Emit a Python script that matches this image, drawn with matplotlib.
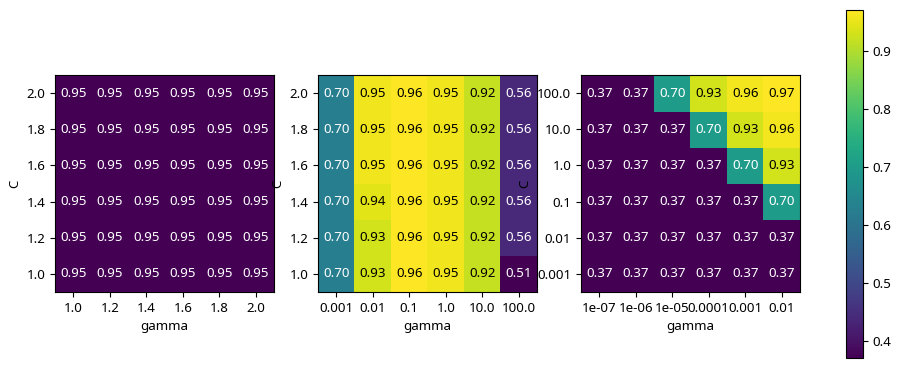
import numpy as np
import matplotlib
matplotlib.use("Agg")
import matplotlib.pyplot as plt

plt.rcParams['font.family'] = ['Noto Sans', 'DejaVu Sans']
plt.rcParams['font.size'] = 9.6
plt.rcParams['axes.unicode_minus'] = False

# rows go from bottom (first C value) to top (last C value)
gamma1 = ['1.0', '1.2', '1.4', '1.6', '1.8', '2.0']
C1 = ['1.0', '1.2', '1.4', '1.6', '1.8', '2.0']
scores1 = [
    [0.95, 0.95, 0.95, 0.95, 0.95, 0.95],
    [0.95, 0.95, 0.95, 0.95, 0.95, 0.95],
    [0.95, 0.95, 0.95, 0.95, 0.95, 0.95],
    [0.95, 0.95, 0.95, 0.95, 0.95, 0.95],
    [0.95, 0.95, 0.95, 0.95, 0.95, 0.95],
    [0.95, 0.95, 0.95, 0.95, 0.95, 0.95],
]

gamma2 = ['0.001', '0.01', '0.1', '1.0', '10.0', '100.0']
C2 = ['1.0', '1.2', '1.4', '1.6', '1.8', '2.0']
scores2 = [
    [0.70, 0.93, 0.96, 0.95, 0.92, 0.51],
    [0.70, 0.93, 0.96, 0.95, 0.92, 0.56],
    [0.70, 0.94, 0.96, 0.95, 0.92, 0.56],
    [0.70, 0.95, 0.96, 0.95, 0.92, 0.56],
    [0.70, 0.95, 0.96, 0.95, 0.92, 0.56],
    [0.70, 0.95, 0.96, 0.95, 0.92, 0.56],
]

gamma3 = ['1e-07', '1e-06', '1e-05', '0.0001', '0.001', '0.01']
C3 = ['0.001', '0.01', '0.1', '1.0', '10.0', '100.0']
scores3 = [
    [0.37, 0.37, 0.37, 0.37, 0.37, 0.37],
    [0.37, 0.37, 0.37, 0.37, 0.37, 0.37],
    [0.37, 0.37, 0.37, 0.37, 0.37, 0.70],
    [0.37, 0.37, 0.37, 0.37, 0.70, 0.93],
    [0.37, 0.37, 0.37, 0.70, 0.93, 0.96],
    [0.37, 0.37, 0.70, 0.93, 0.96, 0.97],
]


def heatmap(ax, values, xticklabels, yticklabels):
    values = np.array(values)
    img = ax.pcolor(values, cmap='viridis')
    img.update_scalarmappable()
    ax.set_xlabel('gamma')
    ax.set_ylabel('C')
    ax.set_xticks(np.arange(len(xticklabels)) + .5)
    ax.set_yticks(np.arange(len(yticklabels)) + .5)
    ax.set_xticklabels(xticklabels)
    ax.set_yticklabels(yticklabels)
    flat = np.asarray(img.get_array()).ravel()
    for p, color, value in zip(img.get_paths(), img.get_facecolors(), flat):
        x, y = p.vertices[:-2, :].mean(0)
        c = 'k' if np.mean(color[:3]) > 0.5 else 'w'
        ax.text(x, y, "%0.2f" % value, color=c, ha="center", va="center")
    return img


fig = plt.figure(figsize=(9, 3.68), dpi=100)
H = 368.0
lefts = [55, 318, 581]
axes = [fig.add_axes([l / 900, (H - 292) / H, 219 / 900, 217 / H]) for l in lefts]

heatmap(axes[0], scores1, gamma1, C1)
heatmap(axes[1], scores2, gamma2, C2)
img = heatmap(axes[2], scores3, gamma3, C3)

cax = fig.add_axes([846 / 900, (H - 358) / H, 17 / 900, 348 / H])
fig.colorbar(img, cax=cax)

fig.savefig('out.png', dpi=100)
